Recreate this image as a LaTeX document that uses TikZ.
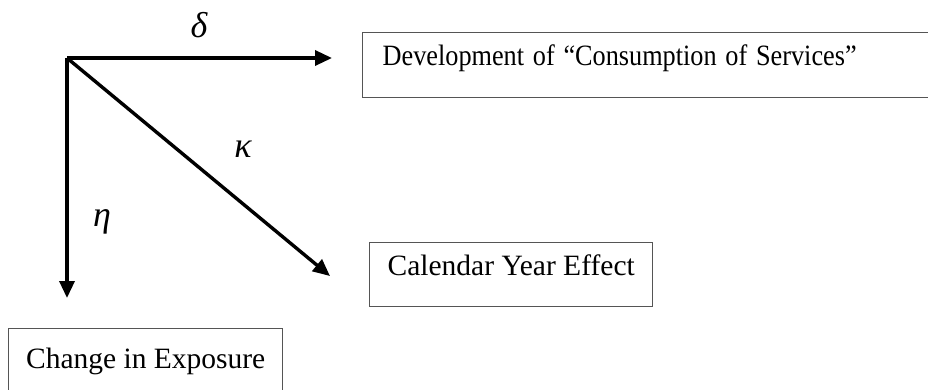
\documentclass[tikz,border=0pt]{standalone}
\usepackage{fontspec}
\setmainfont{Liberation Serif}
\usetikzlibrary{arrows.meta}
\definecolor{boxgray}{RGB}{85,85,85}
\tikzset{
  arr/.style={line width=3.4pt, -{Triangle[length=17pt,width=15pt]}},
  lbox/.style={draw=boxgray, line width=1.4pt, font=\fontsize{29.5}{34}\selectfont, inner xsep=0pt},
  greek/.style={font=\fontsize{36}{40}\selectfont\itshape, inner sep=0pt}
}
\begin{document}
\begin{tikzpicture}[x=1pt,y=-1pt]
\useasboundingbox (0,0) rectangle (928,390);
\coordinate (o) at (67,58);
\coordinate (hend) at (332,58);
\coordinate (dend) at (330,276);
\coordinate (vend) at (67,298);
% boxes
\node[lbox, anchor=north west, minimum width=572pt, inner ysep=13pt,
      text height=20pt, text depth=19pt, text width=552pt, align=left, inner xsep=20pt]
  (dev) at (362,32) {\scalebox{0.89}[1]{Development of “Consumption of Services”}};
\node[lbox, anchor=north west, minimum width=283pt, inner ysep=15pt,
      text height=18pt, text depth=16pt] (cal) at (369,242) {Calendar Year Effect\hspace{12pt}};
\node[lbox, anchor=north west, minimum width=274pt, inner ysep=20pt,
      text height=20pt, text depth=30pt] (exp) at (8,328) {Change in Exposure};
% arrows
\draw[arr] (o) -- (hend);
\draw[arr] (o) -- (dend);
\draw[arr] (o) -- (vend);
% labels
\node[greek] (delta) at (199,25) {δ};
\node[greek] (kappa) at (243,149) {κ};
\node[greek] (eta) at (102,222) {η};
\end{tikzpicture}
\end{document}
